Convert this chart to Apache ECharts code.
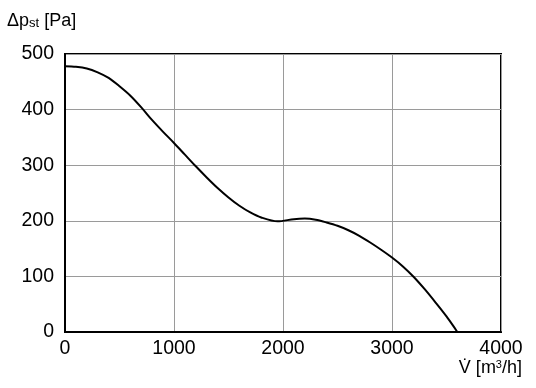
<!DOCTYPE html>
<html>
<head>
<meta charset="utf-8">
<script src="https://cdn.jsdelivr.net/npm/echarts@6/dist/echarts.min.js"></script>
<style>html,body{margin:0;padding:0;background:#fff}#c{width:536px;height:388px}</style>
</head>
<body>
<div id="c"></div>
<script>
var flowValues = [0, 100, 200, 300, 400, 500, 600, 700, 800, 900, 1000, 1100, 1200, 1300, 1400, 1500, 1600, 1700, 1800, 1950, 2100, 2200, 2300, 2400, 2500, 2600, 2700, 2800, 2900, 3000, 3100, 3200, 3300, 3400, 3500, 3600];
var pressureValues = [478, 477, 474, 467, 457, 442, 425, 404, 381, 360, 340, 319, 298, 278, 259, 242, 227, 215, 206, 199, 203, 204, 202, 197, 191, 183, 173, 161, 148, 134, 118, 99, 77, 53, 28, 0];
var xTicks = [0, 1000, 2000, 3000, 4000];
var yTicks = [0, 100, 200, 300, 400, 500];

var FONT = '"Liberation Sans", Arial, Helvetica, sans-serif';
var chart = echarts.init(document.getElementById('c'), null, {renderer: 'canvas'});
var pts = flowValues.map(function (x, i) { return [x, pressureValues[i]]; });
chart.setOption({
  animation: false,
  backgroundColor: '#fff',
  grid: {left: 65, right: 35, top: 54, bottom: 56, show: true, borderColor: '#000', borderWidth: 2, backgroundColor: 'transparent'},
  xAxis: {
    type: 'value', min: xTicks[0], max: xTicks[xTicks.length - 1], interval: 1000,
    axisLine: {show: true, lineStyle: {color: '#000', width: 2}},
    axisTick: {show: false},
    axisLabel: {color: '#000', fontSize: 19.5, fontFamily: FONT, margin: 7, formatter: function (v) { return String(v); }},
    splitLine: {show: true, lineStyle: {color: '#9a9a9a', width: 1}}
  },
  yAxis: {
    type: 'value', min: yTicks[0], max: yTicks[yTicks.length - 1], interval: 100,
    axisLine: {show: true, lineStyle: {color: '#000', width: 2}},
    axisTick: {show: false},
    axisLabel: {color: '#000', fontSize: 19.5, fontFamily: FONT, margin: 11, formatter: function (v) { return String(v); }},
    splitLine: {show: true, lineStyle: {color: '#9a9a9a', width: 1}}
  },
  graphic: [
    {type: 'text', left: 7, top: 12, style: {
      text: '{a|Δp}{b|st}{a| [Pa]}',
      rich: {
        a: {fontSize: 18, fontFamily: FONT, fill: '#000'},
        b: {fontSize: 13, fontFamily: FONT, fill: '#000', padding: [5, 0, 0, 0]}
      }
    }},
    {type: 'text', right: 14, top: 359, style: {
      text: '{a|V̇ [m}{b|3}{a|/h]}',
      rich: {
        a: {fontSize: 18, fontFamily: FONT, fill: '#000'},
        b: {fontSize: 11, fontFamily: FONT, fill: '#000', padding: [0, 0, 8, 0]}
      }
    }}
  ],
  series: [{
    type: 'line', data: pts, smooth: 0.3, showSymbol: false,
    lineStyle: {color: '#000', width: 2}
  }]
});
</script>
</body>
</html>
